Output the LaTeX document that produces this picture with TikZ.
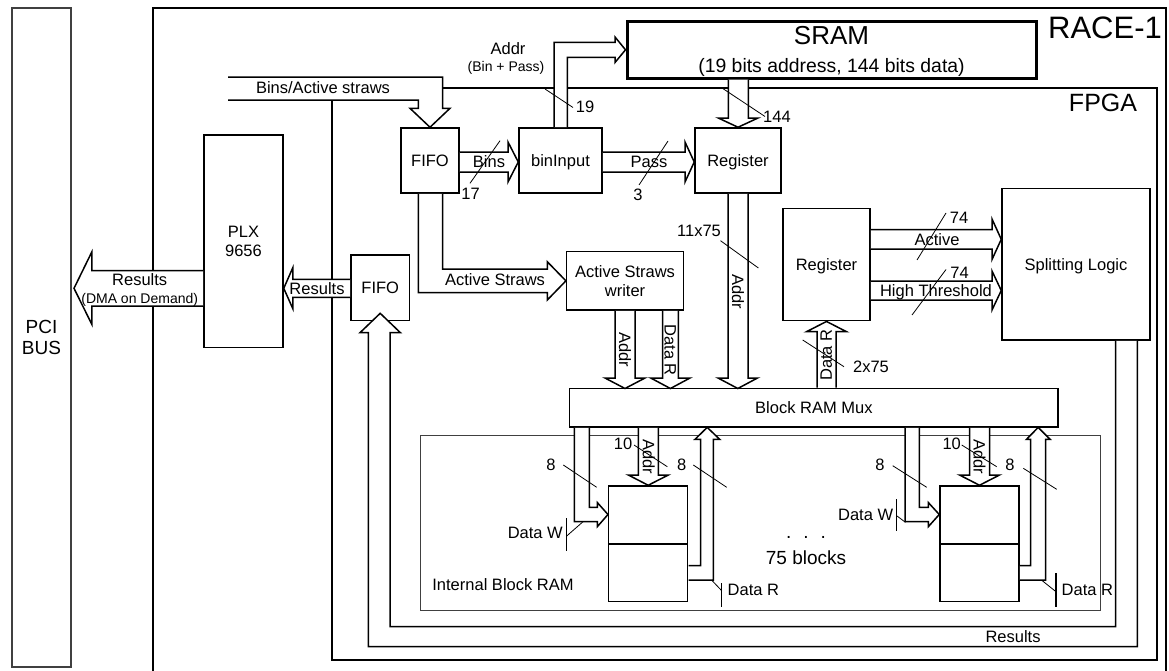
\documentclass[tikz,border=0pt]{standalone}
\usepackage{fontspec}
\setmainfont{Liberation Sans}
\begin{document}
\begin{tikzpicture}[x=1pt,y=-1pt,
  ln/.style={line width=1.5pt, line join=miter},
  box/.style={draw, line width=1.5pt, fill=white, inner sep=0pt, text depth=0pt,
    font=\fontsize{16.5}{19.5}\selectfont, align=center},
  harr/.style={draw, line width=1.5pt, fill=white, line join=miter},
  lbl/.style={inner sep=0pt, text depth=0pt, font=\fontsize{16.5}{19.5}\selectfont},
  small/.style={inner sep=0pt, text depth=0pt, font=\fontsize{14}{16}\selectfont},
  slash/.style={line width=0.8pt},
  tick/.style={line width=1.4pt},
]
\useasboundingbox (0,0) rectangle (1169,670);

% ---------------- outer frames ----------------
\node[box, draw=black!75, line width=1.2pt, minimum width=59pt, minimum height=659pt,
  font=\fontsize{19}{21}\selectfont] (pci) at (41.5,337.5) {PCI\\BUS};

\coordinate (raceBL) at (153,690);
\coordinate (raceTL) at (153,8);
\coordinate (raceTR) at (1166,8);
\coordinate (raceBR) at (1166,690);
\draw[ln] (raceBL) -- (raceTL) -- (raceTR) -- (raceBR);
\node[lbl, font=\fontsize{31}{36}\selectfont] (racel) at (1105,28) {RACE-1};

\node[draw, ln, minimum width=825pt, minimum height=572pt, inner sep=0pt] (fpga) at (744.5,374) {};
\node[lbl, font=\fontsize{25}{30}\selectfont] (fpgal) at (1103,103) {FPGA};

% ---------------- SRAM ----------------
\node[box, line width=3pt, minimum width=409pt, minimum height=57pt] (sram) at (831.5,49.5) {};
\node[lbl, font=\fontsize{26}{30}\selectfont] (sramt) at (831.5,35.5) {SRAM};
\node[lbl, font=\fontsize{19.4}{23}\selectfont] (sramd) at (831.5,65) {(19 bits address, 144 bits data)};

% ---------------- internal block RAM region ----------------
\node[draw=black!75, line width=0.9pt, minimum width=680pt, minimum height=175pt, inner sep=0pt] (ibr) at (760,522.5) {};
\node[lbl] (ibrl) at (503,585) {Internal Block RAM};

% ---------------- blocks ----------------
\node[box, minimum width=58pt, minimum height=65pt] (fifoA) at (430,160.5) {FIFO};
\node[box, minimum width=83pt, minimum height=65pt] (bin) at (560.5,160.5) {binInput};
\node[box, minimum width=86pt, minimum height=65pt] (regA) at (738,160.5) {Register};
\node[box, minimum width=79pt, minimum height=212.7pt] (plx) at (243.5,241.35) {PLX\\9656};
\node[box, minimum width=58.5pt, minimum height=65.5pt] (fifoB) at (380.25,287.75) {FIFO};
\node[box, minimum width=116.7pt, minimum height=58.3pt] (writer) at (625,280.85) {Active Straws\\writer};
\node[box, minimum width=87pt, minimum height=112.4pt] (regB) at (826.5,264.5) {Register};
\node[box, minimum width=148pt, minimum height=151.7pt] (split) at (1076,264.15) {Splitting Logic};
\node[box, minimum width=488.3pt, minimum height=38.5pt] (mux) at (813.85,407.75) {Block RAM Mux};
\node[box, minimum width=79pt, minimum height=115.7pt] (ramL) at (648.2,543.85) {};
\draw[ln] (ramL.west) -- (ramL.east);
\node[box, minimum width=79pt, minimum height=115.7pt] (ramR) at (979.5,543.85) {};
\draw[ln] (ramR.west) -- (ramR.east);

% ---------------- block arrows ----------------
% Bins/Active straws input
\draw[harr] (228,77) -- (442.7,77) -- (442.7,108.3) -- (450,108.3) -- (fifoA.north) -- (410,108.3) -- (418.3,108.3) -- (418.3,100) -- (228,100);
% Bins
\draw[harr] (459.8,152) -- (508,152) -- (508,142) -- (bin.west |- 0,162) -- (508,182) -- (508,172) -- (459.8,172);
% Pass
\draw[harr] (602.8,152) -- (685,152) -- (685,142) -- (regA.west |- 0,162) -- (685,182) -- (685,172) -- (602.8,172);
% Addr to SRAM
\draw[harr] (554,127.2) -- (554,42.3) -- (615,42.3) -- (615,37) -- (sram.west |- 0,49.8) -- (615,62.5) -- (615,57.3) -- (567.3,57.3) -- (567.3,127.2);
% SRAM -> Register (144)
\draw[harr] (728.3,79.6) -- (728.3,118) -- (718.3,118) -- (regA.north) -- (758,118) -- (748.3,118) -- (748.3,79.6);
% Register -> Mux (Addr)
\draw[harr] (728,193.8) -- (728,378) -- (718,378) -- (737.8,388.5) -- (757.5,378) -- (748,378) -- (748,193.8);
% Active Straws
\draw[harr] (418.3,193.8) -- (418.3,292.7) -- (547.3,292.7) -- (547.3,300) -- (writer.west) -- (547.3,261.7) -- (547.3,269) -- (442.7,269) -- (442.7,193.8);
% writer -> mux Addr
\draw[harr] (615,310.8) -- (615,378) -- (605,378) -- (625,388.5) -- (645,378) -- (635,378) -- (635,310.8);
% writer -> mux Data R
\draw[harr] (662.5,310.8) -- (662.5,378) -- (650.7,378) -- (670.4,388.5) -- (690,378) -- (678.3,378) -- (678.3,310.8);
% mux -> Register (Data R)
\draw[harr] (817,387.7) -- (817,331.7) -- (806.5,331.7) -- (regB.south) -- (846.5,331.7) -- (836,331.7) -- (836,387.7);
% Active
\draw[harr] (870.8,229.5) -- (992,229.5) -- (992,219) -- (split.west |- 0,239.3) -- (992,259.5) -- (992,249) -- (870.8,249);
% High Threshold
\draw[harr] (870.8,281) -- (992,281) -- (992,271) -- (split.west |- 0,290.5) -- (992,310) -- (992,300) -- (870.8,300);
% Results loop back to FIFO
\draw[harr] (1137.3,340.8) -- (1137.3,646.5) -- (368.3,646.5) -- (368.3,332.7) -- (360,332.7) -- (380.2,313.3) -- (400.4,332.7) -- (390,332.7) -- (390,626.5) -- (1115.7,626.5) -- (1115.7,340.8);
% FIFO -> PLX Results
\draw[harr] (350.2,279.3) -- (292.8,279.3) -- (292.8,267.7) -- (plx.east |- 0,288.3) -- (292.8,308.6) -- (292.8,297.3) -- (350.2,297.3);
% PLX -> PCI Results
\draw[harr] (203.2,270.7) -- (91.8,270.7) -- (91.8,252) -- (74,288.3) -- (91.8,324.3) -- (91.8,306) -- (203.2,306);

% left RAM block arrows
\draw[harr] (574.3,427.8) -- (574.3,521.7) -- (597.3,521.7) -- (597.3,526.7) -- (ramL.west |- 0,514.5) -- (597.3,502.5) -- (597.3,507.3) -- (589.3,507.3) -- (589.3,427.8);
\draw[harr] (638.3,427.8) -- (638.3,475) -- (628.3,475) -- (ramL.north) -- (668.3,475) -- (658.3,475) -- (658.3,427.8);
\draw[harr] (688.5,565.7) -- (700.7,565.7) -- (700.7,439.3) -- (695,439.3) -- (707.2,427.4) -- (719.7,439.3) -- (713.3,439.3) -- (713.3,580) -- (688.5,580);
% right RAM block arrows
\draw[harr] (905,427.8) -- (905,521.7) -- (928.3,521.7) -- (928.3,526.7) -- (ramR.west |- 0,514.5) -- (928.3,502.5) -- (928.3,507.3) -- (919.3,507.3) -- (919.3,427.8);
\draw[harr] (969.5,427.8) -- (969.5,475) -- (959.5,475) -- (ramR.north) -- (999.5,475) -- (989.5,475) -- (989.5,427.8);
\draw[harr] (1019.8,565.7) -- (1030.7,565.7) -- (1030.7,439.3) -- (1026.5,439.3) -- (1038.2,427.4) -- (1050,439.3) -- (1045.7,439.3) -- (1045.7,580) -- (1019.8,580);

% ---------------- labels on arrows ----------------
\node[lbl] (lbas) at (323,88) {Bins/Active straws};
\node[lbl] (lbins) at (489,162) {Bins};
\node[lbl] (lpass) at (649,161.5) {Pass};
\node[lbl] (laddr) at (508,48.5) {Addr};
\node[small] (lbp) at (506,66) {(Bin + Pass)};
\node[lbl] (l19) at (585,107) {19};
\node[lbl] (l17) at (470.5,194) {17};
\node[lbl] (l3) at (638,195) {3};
\node[lbl] (l144) at (777,117) {144};
\node[lbl, rotate=-90] (laddrA) at (738,292) {Addr};
\node[lbl] (l1175) at (699,231) {11x75};
\node[lbl] (las) at (495,280) {Active Straws};
\node[lbl, rotate=-90] (laddrW) at (625,350) {Addr};
\node[lbl, rotate=-90] (ldrW) at (670.4,350) {Data R};
\node[lbl, rotate=90] (ldrB) at (826.3,355) {Data R};
\node[lbl] (l275) at (871,367) {2x75};
\node[lbl] (lact) at (937,239.3) {Active};
\node[lbl] (l74a) at (959,218) {74};
\node[lbl] (lht) at (936,290.5) {High Threshold};
\node[lbl] (l74b) at (959.5,273) {74};
\node[lbl] (lres1) at (139.7,279.3) {Results};
\node[small] (ldma) at (139.7,298.3) {(DMA on Demand)};
\node[lbl] (lres2) at (317,288.3) {Results};
\node[lbl] (lres3) at (1013,636.5) {Results};

% RAM area labels
\node[lbl] (l8a) at (551,465) {8};
\node[lbl] (l10a) at (623,443.3) {10};
\node[lbl, rotate=-90] (laddrL) at (648.8,456.7) {Addr};
\node[lbl] (l8b) at (681.7,465) {8};
\node[lbl] (l8c) at (880,465) {8};
\node[lbl] (l10b) at (951.7,443.3) {10};
\node[lbl, rotate=-90] (laddrR) at (979.5,456.7) {Addr};
\node[lbl] (l8d) at (1010,465) {8};
\node[lbl, font=\fontsize{19}{22}\selectfont] (ldots) at (806,537) {.\hspace{12pt}.\hspace{12pt}.};
\node[lbl, font=\fontsize{19}{22}\selectfont] (lblocks) at (806,558) {75 blocks};

\node[lbl, anchor=east] (ldwL) at (563,533) {Data W};
\node[lbl, anchor=east] (ldwR) at (893.3,515) {Data W};
\node[lbl, anchor=west] (ldrL) at (727.5,590) {Data R};
\node[lbl, anchor=west] (ldrR) at (1061.5,590) {Data R};

% ---------------- bus-width slashes ----------------
\draw[slash] (500,140.7) -- (470,183.3);
\draw[slash] (668,141) -- (639,185);
\draw[slash] (545,89) -- (573,107.5);
\draw[slash] (722,88) -- (765,116.5);
\draw[slash] (720.5,240.7) -- (758.4,268);
\draw[slash] (802.7,340) -- (844,366.7);
\draw[slash] (946,213) -- (917,260);
\draw[slash] (946,269.5) -- (912,315);
\draw[slash] (563.3,465) -- (596.7,487.3);
\draw[slash] (634,445) -- (667.3,466.7);
\draw[slash] (693.3,465) -- (726.7,487.3);
\draw[slash] (892.7,465.7) -- (926.7,487.3);
\draw[slash] (961.7,445) -- (996.7,466.7);
\draw[slash] (1023.3,468.3) -- (1056.7,489.3);

% ---------------- callout ticks ----------------
\draw[tick] (566.7,518.3) -- (566.7,550.7);
\draw[slash] (566.7,536) -- (583,521.7);
\draw[tick] (896.7,499.3) -- (896.7,530.7);
\draw[slash] (897,516) -- (905.5,522.3);
\draw[tick] (721.7,583.3) -- (721.7,606.7);
\draw[slash] (712,580.5) -- (721.7,590.7);
\draw[tick] (1056,573.3) -- (1056,606.7);
\draw[slash] (1042,580.5) -- (1056,591.7);
\end{tikzpicture}
\end{document}
